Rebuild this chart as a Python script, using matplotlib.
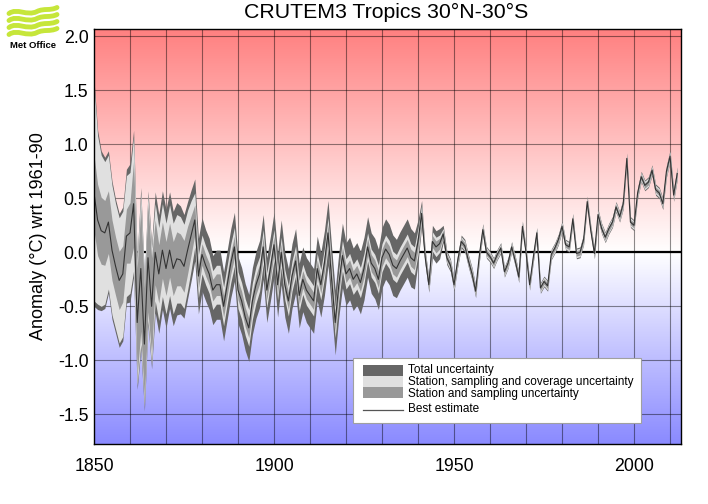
import numpy as np
import matplotlib
matplotlib.use("Agg")
import matplotlib.pyplot as plt
from matplotlib.patches import Rectangle, PathPatch
from matplotlib.path import Path
from matplotlib.lines import Line2D

plt.rcParams['font.family'] = ['Liberation Sans', 'DejaVu Sans']
plt.rcParams['axes.unicode_minus'] = False

# ---------------- data ----------------
years = list(range(1850, 2013))

best_estimate = [
    0.55, 0.30, 0.20, 0.18, 0.28, 0.02, -0.13, -0.26, -0.20, 0.15,
    0.18, 0.45, -0.65, -0.15, -0.85, -0.05, -0.50, 0.00, -0.20, 0.02,
    -0.15, 0.02, -0.15, -0.06, -0.07, -0.13, 0.02, 0.16, 0.30, -0.22,
    -0.02, -0.12, -0.20, -0.35, -0.30, -0.30, -0.50, -0.30, -0.10, 0.05,
    -0.35, -0.45, -0.60, -0.70, -0.45, -0.30, -0.20, 0.05, -0.35, -0.15,
    0.07, -0.30, 0.00, -0.30, -0.45, -0.22, -0.08, -0.40, -0.25, -0.35,
    -0.40, -0.45, -0.15, -0.30, -0.10, 0.18, -0.25, -0.65, -0.30, -0.03,
    -0.20, -0.15, -0.25, -0.20, -0.28, -0.15, 0.05, -0.10, -0.15, -0.25,
    -0.05, 0.03, -0.02, -0.12, -0.15, -0.08, -0.02, 0.04, -0.05, -0.08,
    0.10, 0.36, -0.05, -0.30, 0.10, 0.05, 0.08, 0.17, -0.05, -0.12,
    -0.30, -0.08, 0.10, 0.06, -0.08, -0.20, -0.36, -0.04, 0.21, 0.00,
    -0.04, -0.10, -0.02, 0.04, -0.18, -0.10, 0.05, -0.08, -0.23, 0.24,
    0.00, -0.30, -0.05, 0.18, -0.33, -0.27, -0.31, -0.02, 0.04, 0.12,
    0.24, 0.07, 0.05, 0.31, -0.01, 0.00, 0.12, 0.47, 0.20, -0.01,
    0.35, 0.22, 0.14, 0.22, 0.28, 0.42, 0.33, 0.45, 0.87, 0.28,
    0.25, 0.55, 0.70, 0.62, 0.65, 0.76, 0.58, 0.55, 0.45, 0.75,
    0.89, 0.53, 0.73,
]

# half-widths of the uncertainty ranges
total_unc = [
    1.05, 0.83, 0.74, 0.70, 0.66, 0.64, 0.62, 0.62, 0.62, 0.62,
    0.64, 0.68, 0.62, 0.75, 0.62, 0.62, 0.58, 0.56, 0.55, 0.55,
    0.55, 0.54, 0.53, 0.52, 0.50, 0.48, 0.45, 0.42, 0.38, 0.35,
    0.34, 0.33, 0.33, 0.32, 0.32, 0.32, 0.32, 0.32, 0.32, 0.32,
    0.31, 0.31, 0.31, 0.31, 0.31, 0.31, 0.31, 0.30, 0.30, 0.30,
    0.30, 0.30, 0.30, 0.30, 0.30, 0.30, 0.30, 0.30, 0.30, 0.30,
    0.30, 0.30, 0.30, 0.30, 0.30, 0.30, 0.30, 0.30, 0.30, 0.30,
    0.29, 0.29, 0.29, 0.29, 0.29, 0.29, 0.28, 0.28, 0.28, 0.28,
    0.28, 0.28, 0.28, 0.28, 0.27, 0.27, 0.27, 0.27, 0.27, 0.26,
    0.20, 0.12, 0.07, 0.07, 0.15, 0.15, 0.14, 0.08, 0.065, 0.06,
    0.06, 0.06, 0.06, 0.06, 0.06, 0.06, 0.06, 0.058, 0.056, 0.055,
    0.052, 0.05, 0.05, 0.05, 0.05, 0.05, 0.05, 0.05, 0.05, 0.05,
    0.05, 0.05, 0.05, 0.05, 0.05, 0.05, 0.05, 0.05, 0.05, 0.05,
    0.05, 0.05, 0.05, 0.05, 0.05, 0.05, 0.05, 0.05, 0.05, 0.05,
    0.05, 0.05, 0.05, 0.05, 0.05, 0.05, 0.05, 0.05, 0.05, 0.05,
    0.05, 0.05, 0.05, 0.05, 0.05, 0.05, 0.052, 0.052, 0.054, 0.055,
    0.056, 0.058, 0.06,
]

coverage_unc = [
    1.00, 0.78, 0.70, 0.66, 0.62, 0.60, 0.58, 0.58, 0.58, 0.56,
    0.56, 0.62, 0.58, 0.70, 0.58, 0.58, 0.54, 0.45, 0.43, 0.43,
    0.42, 0.42, 0.42, 0.41, 0.40, 0.39, 0.37, 0.32, 0.25, 0.20,
    0.18, 0.18, 0.18, 0.18, 0.18, 0.18, 0.18, 0.18, 0.18, 0.18,
    0.17, 0.17, 0.17, 0.17, 0.17, 0.17, 0.16, 0.16, 0.16, 0.15,
    0.14, 0.14, 0.14, 0.14, 0.14, 0.14, 0.14, 0.14, 0.14, 0.14,
    0.14, 0.14, 0.14, 0.14, 0.14, 0.14, 0.14, 0.14, 0.14, 0.14,
    0.14, 0.14, 0.14, 0.14, 0.14, 0.14, 0.13, 0.13, 0.13, 0.13,
    0.13, 0.13, 0.13, 0.13, 0.13, 0.13, 0.13, 0.13, 0.13, 0.13,
    0.12, 0.08, 0.05, 0.05, 0.09, 0.09, 0.08, 0.05, 0.045, 0.045,
    0.045, 0.045, 0.045, 0.045, 0.045, 0.045, 0.045, 0.045, 0.045, 0.045,
    0.04, 0.04, 0.04, 0.04, 0.04, 0.04, 0.04, 0.04, 0.04, 0.04,
    0.04, 0.04, 0.04, 0.04, 0.04, 0.04, 0.04, 0.04, 0.04, 0.04,
    0.04, 0.04, 0.04, 0.04, 0.04, 0.04, 0.04, 0.04, 0.04, 0.04,
    0.04, 0.04, 0.04, 0.04, 0.04, 0.04, 0.04, 0.04, 0.04, 0.04,
    0.04, 0.04, 0.04, 0.04, 0.04, 0.04, 0.04, 0.04, 0.04, 0.045,
    0.045, 0.045, 0.05,
]

station_unc = [
    0.35, 0.33, 0.31, 0.30, 0.29, 0.28, 0.27, 0.27, 0.26, 0.25,
    0.28, 0.40, 0.50, 0.58, 0.52, 0.50, 0.45, 0.30, 0.27, 0.26,
    0.25, 0.25, 0.25, 0.25, 0.24, 0.24, 0.22, 0.18, 0.14, 0.11,
    0.10, 0.10, 0.10, 0.10, 0.10, 0.10, 0.10, 0.10, 0.10, 0.10,
    0.09, 0.09, 0.09, 0.09, 0.09, 0.09, 0.09, 0.09, 0.09, 0.09,
    0.08, 0.08, 0.08, 0.08, 0.08, 0.08, 0.08, 0.08, 0.08, 0.08,
    0.08, 0.08, 0.08, 0.08, 0.08, 0.08, 0.08, 0.08, 0.08, 0.08,
    0.08, 0.08, 0.08, 0.08, 0.08, 0.08, 0.08, 0.08, 0.08, 0.08,
    0.08, 0.08, 0.08, 0.08, 0.08, 0.08, 0.08, 0.08, 0.08, 0.08,
    0.07, 0.05, 0.035, 0.035, 0.055, 0.055, 0.05, 0.035, 0.03, 0.03,
    0.03, 0.03, 0.03, 0.03, 0.03, 0.03, 0.03, 0.03, 0.03, 0.03,
    0.025, 0.025, 0.025, 0.025, 0.025, 0.025, 0.025, 0.025, 0.025, 0.025,
    0.025, 0.025, 0.025, 0.025, 0.025, 0.025, 0.025, 0.025, 0.025, 0.025,
    0.025, 0.025, 0.025, 0.025, 0.025, 0.025, 0.025, 0.025, 0.025, 0.025,
    0.025, 0.025, 0.025, 0.025, 0.025, 0.025, 0.025, 0.025, 0.025, 0.025,
    0.025, 0.025, 0.025, 0.025, 0.025, 0.025, 0.025, 0.025, 0.025, 0.03,
    0.03, 0.03, 0.03,
]

y_ticks = [-1.5, -1.0, -0.5, 0.0, 0.5, 1.0, 1.5, 2.0]
x_ticks = [1850, 1900, 1950, 2000]
grid_years = [1860, 1870, 1880, 1890, 1900, 1910, 1920, 1930, 1940,
              1950, 1960, 1970, 1980, 1990, 2000, 2010]

title = 'CRUTEM3 Tropics 30°N-30°S'
ylabel = 'Anomaly (°C) wrt 1961-90'
legend_labels = ['Total uncertainty',
                 'Station, sampling and coverage uncertainty',
                 'Station and sampling uncertainty',
                 'Best estimate']

# ---------------- figure ----------------
W, H = 708, 504
fig = plt.figure(figsize=(W / 100, H / 100), dpi=100)
fig.patch.set_facecolor('white')

def fx(px):
    return px / W

def fy(py):
    return 1 - py / H

ax_l, ax_r, ax_t, ax_b = 94, 681, 29, 444
ax = fig.add_axes([fx(ax_l), fy(ax_b), (ax_r - ax_l) / W, (ax_b - ax_t) / H])

xmin, xmax = 1850, 2013.05
ymin, ymax = -1.775, 2.068
ax.set_xlim(xmin, xmax)
ax.set_ylim(ymin, ymax)

# background gradient: red above zero, blue below
vals = np.linspace(ymin, ymax, 500)
img = np.ones((500, 1, 3))
top_col = np.array([255, 128, 128]) / 255.0
bot_col = np.array([138, 138, 255]) / 255.0
white = np.ones(3)
for i, v in enumerate(vals):
    if v >= 0:
        f = v / ymax
        img[i, 0, :] = white + (top_col - white) * f
    else:
        f = v / ymin
        img[i, 0, :] = white + (bot_col - white) * f
ax.imshow(img, extent=[xmin, xmax, ymin, ymax], origin='lower',
          aspect='auto', zorder=0, interpolation='bilinear')

# grid
grid_col = (0, 0, 0, 0.45)
for v in y_ticks:
    ax.axhline(v, color=grid_col, lw=0.8, zorder=1)
for yr in grid_years:
    ax.axvline(yr, color=grid_col, lw=0.8, zorder=1)
ax.axhline(0, color='black', lw=1.6, zorder=2)

yrs = np.array(years, dtype=float)
b = np.array(best_estimate)
t = np.array(total_unc)
c = np.array(coverage_unc)
s = np.array(station_unc)

ax.fill_between(yrs, b - t, b + t, color='#666666', lw=0, zorder=3)
ax.fill_between(yrs, b - c, b + c, color='#e0e0e0', lw=0, zorder=4)
ax.fill_between(yrs, b - s, b + s, color='#999999', lw=0, zorder=5)
ax.plot(yrs, b, color='#333333', lw=0.8, zorder=6)

# axes styling
for sp in ax.spines.values():
    sp.set_color('black')
    sp.set_linewidth(1.0)
    sp.set_zorder(8)
ax.set_xticks(x_ticks)
ax.set_xticklabels([str(v) for v in x_ticks])
ax.set_yticks(y_ticks)
ax.set_yticklabels(['%.1f' % v for v in y_ticks])
ax.tick_params(axis='both', length=0, labelsize=12.8, colors='black')
ax.tick_params(axis='x', pad=10)
ax.tick_params(axis='y', pad=4)
ax.set_ylabel(ylabel, fontsize=13)
ax.yaxis.set_label_coords(-0.08, 0.5)

fig.text(fx(386), fy(12), title, ha='center', va='center', fontsize=15.3)

# ---------------- legend (drawn by hand) ----------------
def frect(x0, y0, x1, y1, **kw):
    r = Rectangle((fx(x0), fy(y1)), (x1 - x0) / W, (y1 - y0) / H,
                  transform=fig.transFigure, **kw)
    fig.add_artist(r)

frect(353, 358, 641, 423, facecolor='white', edgecolor='#a0a0a0', lw=0.8, zorder=20)
frect(363, 365, 403, 375.7, facecolor='#666666', edgecolor='none', zorder=21)
frect(363, 375.7, 403, 387.3, facecolor='#e0e0e0', edgecolor='none', zorder=21)
frect(363, 387.3, 403, 398.3, facecolor='#999999', edgecolor='none', zorder=21)
fig.add_artist(Line2D([fx(363), fx(403)], [fy(410), fy(410)], color='#555555',
                      lw=0.9, transform=fig.transFigure, zorder=21))
for lab, yc in zip(legend_labels, [370.5, 382, 393.5, 409.5]):
    fig.text(fx(407.5), fy(yc), lab, ha='left', va='center', fontsize=8.5,
             zorder=22)

# ---------------- Met Office logo ----------------
logo_col = '#c6e63a'
for y0 in [10.5, 17.5, 24.5, 31.5]:
    pts = [(9, y0 + 3), (17, y0 - 3), (27, y0 + 6), (37, y0 + 1),
           (44, y0 - 2.5), (50, y0 + 0.5), (57, y0 - 3)]
    verts = [(fx(px), fy(py)) for px, py in pts]
    codes = [Path.MOVETO, Path.CURVE4, Path.CURVE4, Path.CURVE4,
             Path.CURVE4, Path.CURVE4, Path.CURVE4]
    fig.add_artist(PathPatch(Path(verts, codes), fill=False, edgecolor=logo_col,
                             lw=3.5, capstyle='round', transform=fig.transFigure))
fig.text(fx(33.5), fy(46), 'Met Office', ha='center', va='center',
         fontsize=6.8, fontweight='bold', color='black')

fig.savefig('out.png', dpi=100)
